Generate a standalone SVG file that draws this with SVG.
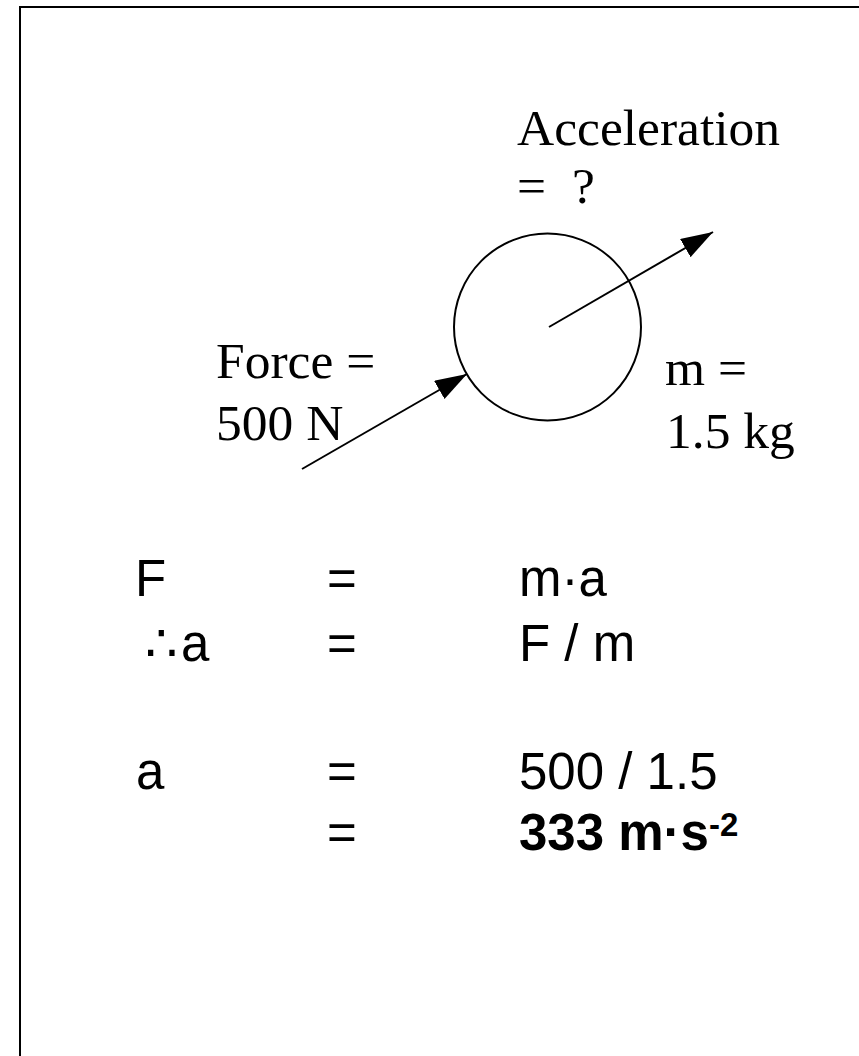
<svg xmlns="http://www.w3.org/2000/svg" width="859" height="1056" viewBox="0 0 859 1056">
<style>
.serif{font-family:"Liberation Serif","Times New Roman",serif;font-size:51.5px;fill:#000}
.sans{font-family:"Liberation Sans",Arial,"DejaVu Sans",sans-serif;font-size:51px;fill:#000}
.bold{font-weight:bold}
.ln{stroke:#000;stroke-width:2;fill:none}
</style>
<defs>
<marker id="ah" markerUnits="userSpaceOnUse" markerWidth="34" markerHeight="24" refX="32" refY="10.5" orient="auto">
<path d="M0,0 L32,10.5 L0,21 z" fill="#000"/>
</marker>
</defs>
<rect width="859" height="1056" fill="#fff"/>
<g id="frame">
<path class="ln" d="M20,1056 L20,7 L859,7"/>
</g>
<g id="mass">
<circle class="ln" cx="547.5" cy="327" r="93.5"/>
</g>
<g id="connectors">
<line class="ln" x1="549" y1="327" x2="713" y2="232" marker-end="url(#ah)"/>
<line class="ln" x1="302" y1="469" x2="467" y2="374" marker-end="url(#ah)"/>
</g>
<g id="label-acceleration">
<text class="serif" x="517" y="145">Acceleration</text>
<text class="serif" x="517" y="203">=</text>
<text class="serif" x="572" y="203">?</text>
</g>
<g id="label-force">
<text class="serif" x="216" y="378">Force =</text>
<text class="serif" x="216" y="440">500 N</text>
</g>
<g id="label-mass">
<text class="serif" x="665" y="385">m =</text>
<text class="serif" x="666" y="448">1.5 kg</text>
</g>
<g id="equations">
<text class="sans" x="135" y="596">F</text>
<text class="sans" x="327" y="596">=</text>
<text class="sans" x="519" y="596">m·a</text>
<text class="sans" x="145" y="661">∴</text>
<text class="sans" x="181" y="661">a</text>
<text class="sans" x="327" y="661">=</text>
<text class="sans" x="519" y="661">F / m</text>
<text class="sans" x="136" y="789">a</text>
<text class="sans" x="327" y="789">=</text>
<text class="sans" x="519" y="789">500 / 1.5</text>
<text class="sans" x="327" y="850">=</text>
<text class="sans bold" x="519" y="850">333 m·s<tspan font-size="33" dy="-14">-2</tspan></text>
</g>
</svg>
